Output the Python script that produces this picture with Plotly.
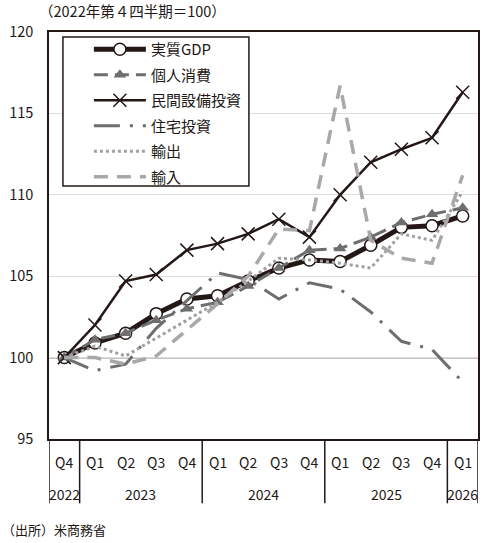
import plotly.graph_objects as go

# 2022Q4 = 100
quarters = ["Q4", "Q1", "Q2", "Q3", "Q4", "Q1", "Q2", "Q3", "Q4", "Q1", "Q2", "Q3", "Q4", "Q1"]
years = ["2022", "2023", "2024", "2025", "2026"]
year_pos = [0, 2.5, 6.5, 10.5, 13]
year_breaks = [-0.5, 0.5, 4.5, 8.5, 12.5, 13.5]

gdp = [100, 100.9, 101.5, 102.7, 103.6, 103.8, 104.7, 105.5, 106.0, 105.9, 106.9, 108.0, 108.1, 108.7]
consumption = [100, 101.1, 101.5, 102.3, 103.0, 103.4, 104.4, 105.5, 106.6, 106.7, 107.4, 108.3, 108.8, 109.2]
equipment = [100, 102.0, 104.7, 105.1, 106.6, 107.0, 107.6, 108.5, 107.4, 110.0, 112.0, 112.8, 113.5, 116.3]
residential = [100, 99.2, 99.6, 101.8, 103.5, 105.2, 104.8, 103.6, 104.6, 104.2, 102.8, 101.0, 100.5, 98.5]
exports = [100, 100.7, 100.1, 101.2, 102.3, 103.4, 104.7, 106.1, 106.0, 105.8, 105.5, 107.6, 107.2, 110.2]
imports = [100, 100.0, 99.6, 100.1, 101.7, 103.3, 105.0, 107.9, 107.8, 116.7, 107.2, 106.1, 105.8, 111.2]

FONT = "Noto Sans CJK JP, Noto Sans, Arial"
INK = "#231815"
x = list(range(len(quarters)))

fig = go.Figure()
fig.add_trace(go.Scatter(
    x=x, y=gdp, name="実質GDP", mode="lines+markers", legendgroup="a",
    line=dict(color=INK, width=5),
    marker=dict(symbol="circle", size=12, color="white", line=dict(color=INK, width=1.5)),
))
fig.add_trace(go.Scatter(
    x=x, y=consumption, name="個人消費", mode="lines+markers", legendgroup="b",
    line=dict(color="#6e6e6e", width=3, dash="14px,7px"),
    marker=dict(symbol="triangle-up", size=11, color="#6e6e6e"),
))
fig.add_trace(go.Scatter(
    x=x, y=equipment, name="民間設備投資", mode="lines+markers", legendgroup="c",
    line=dict(color=INK, width=2.5),
    marker=dict(symbol="x-thin", size=13, line=dict(color=INK, width=1.5)),
))
fig.add_trace(go.Scatter(
    x=x, y=residential, name="住宅投資", mode="lines", legendgroup="d",
    line=dict(color="#6e6e6e", width=3, dash="26px,10px,3px,10px"),
))
fig.add_trace(go.Scatter(
    x=x, y=exports, name="輸出", mode="lines", legendgroup="e",
    line=dict(color="#a0a0a0", width=3, dash="dot"),
))
fig.add_trace(go.Scatter(
    x=x, y=imports, name="輸入", mode="lines", legendgroup="f",
    line=dict(color="#a8a8a8", width=3.5, dash="14px,9px"),
))

shapes = [
    dict(type="line", xref="paper", yref="y", x0=0, x1=1, y0=100, y1=100,
         line=dict(color=INK, width=1.2), layer="below"),
    # legend frame
    dict(type="rect", xref="paper", yref="paper", x0=0.0325, x1=0.466, y0=0.6216, y1=0.988,
         fillcolor="white", line=dict(color=INK, width=1.5), layer="above"),
]
for b in year_breaks:
    shapes.append(dict(type="line", xref="x", yref="paper", x0=b, x1=b, y0=0, y1=-0.158,
                       line=dict(color=INK, width=1.5)))

annotations = []
for i, q in enumerate(quarters):
    annotations.append(dict(x=i, y=-0.0565, xref="x", yref="paper", yanchor="middle", text=q,
                            showarrow=False, font=dict(size=14, color=INK)))
for yr, p in zip(years, year_pos):
    annotations.append(dict(x=p, y=-0.135, xref="x", yref="paper", yanchor="middle", text=yr,
                            showarrow=False, font=dict(size=14, color=INK)))
annotations.append(dict(x=-0.027, y=1.054, xref="paper", yref="paper", xanchor="left", yanchor="middle",
                        text="（2022年第４四半期＝100）", showarrow=False,
                        font=dict(size=14.5, color=INK)))
annotations.append(dict(x=-0.114, y=-0.223, xref="paper", yref="paper", xanchor="left", yanchor="middle",
                        text="（出所）米商務省", showarrow=False,
                        font=dict(size=13, color=INK)))

fig.update_layout(
    width=484, height=543,
    margin=dict(l=49, r=4, t=32, b=104),
    plot_bgcolor="white", paper_bgcolor="white",
    font=dict(family=FONT, size=14, color=INK),
    showlegend=True,
    legend=dict(x=0.093, y=0.9975, xanchor="left", yanchor="top",
                bgcolor="rgba(0,0,0,0)", borderwidth=0,
                font=dict(size=15), itemwidth=52, tracegroupgap=3),
    shapes=shapes,
    annotations=annotations,
)
fig.update_xaxes(range=[-0.5, 13.5], showticklabels=False, ticks="", showgrid=False,
                 showline=True, linecolor=INK, linewidth=1.5, mirror=True, zeroline=False)
fig.update_yaxes(range=[95, 120], tickvals=[95, 100, 105, 110, 115, 120], ticks="",
                 showgrid=True, gridcolor="#dcdcdc", gridwidth=1,
                 showline=True, linecolor=INK, linewidth=1.5, mirror=True, zeroline=False,
                 tickfont=dict(size=14.5), ticklabelstandoff=11)

fig.write_html("out.html", config={"displayModeBar": False},
               post_script="document.body.style.margin='0';")
